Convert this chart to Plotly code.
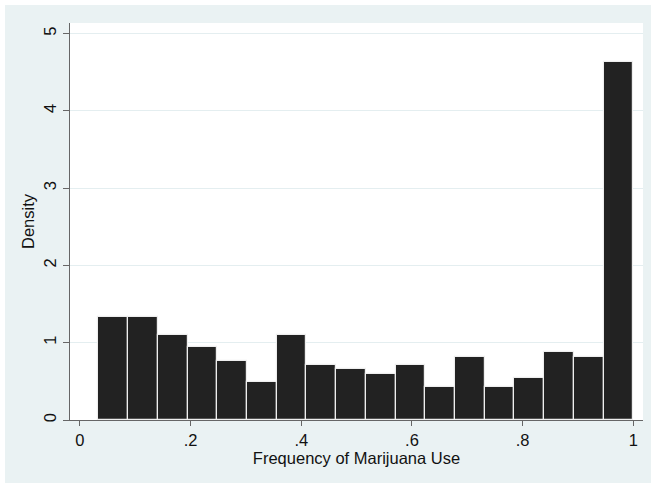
import plotly.graph_objects as go

# Histogram data (density), 18 bins from 1/30 to 1
bin_start = 0.0333
bin_end = 1.0
densities = [1.327, 1.327, 1.094, 0.94, 0.767, 0.486, 1.094, 0.715, 0.66,
             0.595, 0.715, 0.43, 0.82, 0.43, 0.543, 0.875, 0.82, 4.626]
x_tickvals = [0, 0.2, 0.4, 0.6, 0.8, 1]
x_ticktext = ["0", ".2", ".4", ".6", ".8", "1"]
y_tickvals = [0, 1, 2, 3, 4, 5]
y_ticktext = ["0", "1", "2", "3", "4", "5"]

nb = len(densities)
w = (bin_end - bin_start) / nb
centers = [bin_start + w * (i + 0.5) for i in range(nb)]

W, H = 652, 485
L, R, T, B = 70, 9, 23, 65
pw, ph = W - L - R, H - T - B

def px_to_paper_x(px):
    return (px - L) / pw

def px_to_paper_y(py):
    return (H - B - py) / ph

fig = go.Figure()
fig.add_trace(go.Bar(
    x=centers, y=densities, width=[w] * nb,
    marker=dict(color="#222222", line=dict(color="#eeeeee", width=1.2)),
    hoverinfo="skip"
))

bg = "#EAF2F3"
fig.add_shape(type="rect", xref="paper", yref="paper", layer="below",
              x0=px_to_paper_x(5), x1=px_to_paper_x(651),
              y0=px_to_paper_y(483), y1=px_to_paper_y(5),
              fillcolor=bg, line=dict(width=0))
fig.add_shape(type="rect", xref="paper", yref="paper", layer="below",
              x0=0, x1=1, y0=0, y1=1,
              fillcolor="white", line=dict(width=0))

font = dict(family="Liberation Sans, Arial, sans-serif", size=16.5, color="#111111")

fig.update_layout(
    width=W, height=H,
    margin=dict(l=L, r=R, t=T, b=B, pad=0),
    paper_bgcolor="white", plot_bgcolor="white",
    showlegend=False, bargap=0,
    font=font,
    xaxis=dict(range=[-0.018, 1.0175], tickvals=x_tickvals, ticktext=x_ticktext,
               showgrid=False, zeroline=False, showline=True, linecolor="#666666",
               linewidth=1, ticks="outside", ticklen=5, tickcolor="#666666",
               title=dict(text="Frequency of Marijuana Use", standoff=0, font=font),
               tickfont=font),
    yaxis=dict(range=[0, 5.137], tickvals=y_tickvals, ticktext=y_ticktext,
               showgrid=True, gridcolor="#E4EEF0", gridwidth=1, zeroline=False,
               showline=True, linecolor="#666666", linewidth=1,
               ticks="outside", ticklen=6, tickcolor="#666666",
               tickangle=-90,
               title=dict(text="Density", standoff=2, font=font),
               tickfont=font),
)

fig.write_html("out.html", config={"displayModeBar": False},
               post_script="document.body.style.margin='0';document.body.style.overflow='hidden';")
